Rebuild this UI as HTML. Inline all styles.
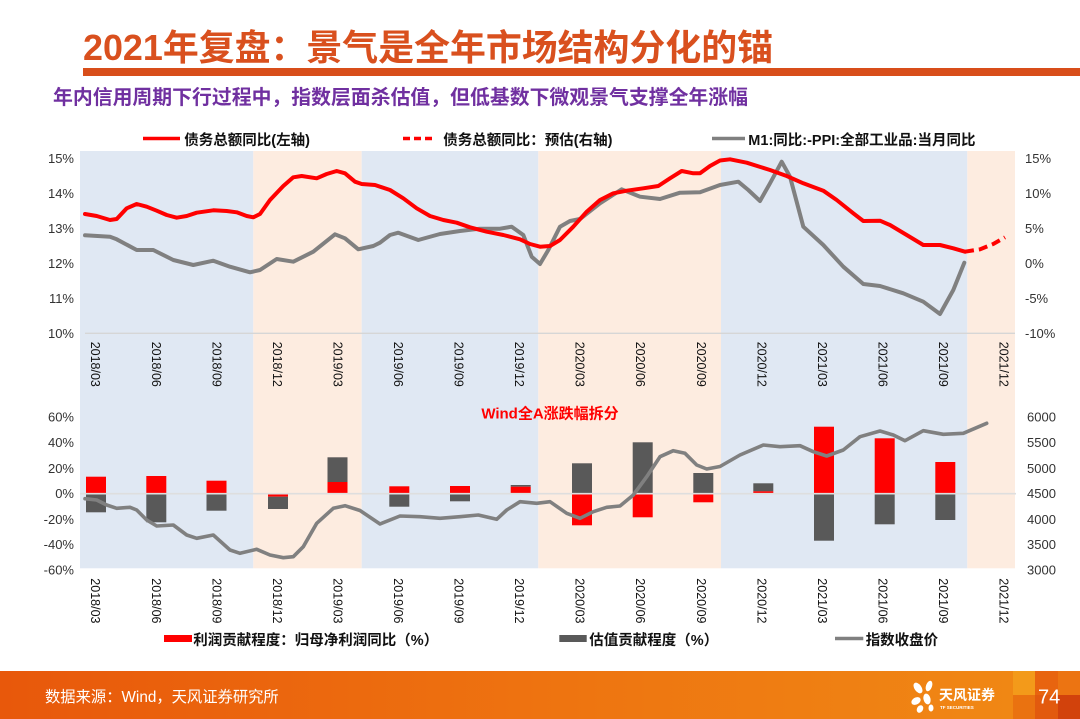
<!DOCTYPE html>
<html><head><meta charset="utf-8"><style>
html,body{margin:0;padding:0;background:#fff;}
svg{display:block;}
text{font-family:"Liberation Sans","Noto Sans CJK SC",sans-serif;}
.tk{font-size:13px;fill:#333;}
.dt{font-size:12.5px;fill:#111;}
.lg{font-size:14.5px;font-weight:bold;fill:#111;}
</style></head><body>
<svg width="1080" height="719" viewBox="0 0 1080 719" xmlns="http://www.w3.org/2000/svg">
<defs>
<linearGradient id="fg" x1="0" y1="0" x2="1" y2="0">
<stop offset="0" stop-color="#e8580b"/><stop offset="0.5" stop-color="#ee7310"/><stop offset="1" stop-color="#f08a15"/>
</linearGradient>
</defs>
<rect width="1080" height="719" fill="#fff"/>
<!-- Title -->
<text x="83" y="60" font-size="36" font-weight="bold" fill="#d9501e" textLength="690" lengthAdjust="spacingAndGlyphs">2021年复盘：景气是全年市场结构分化的锚</text>
<rect x="83" y="68" width="997" height="8" fill="#d84e1a"/>
<text x="53" y="104" font-size="20" font-weight="bold" fill="#7030a0" textLength="695" lengthAdjust="spacingAndGlyphs">年内信用周期下行过程中，指数层面杀估值，但低基数下微观景气支撑全年涨幅</text>

<!-- top legend -->
<line x1="143" y1="138.5" x2="180" y2="138.5" stroke="#ff0000" stroke-width="3.5"/>
<text class="lg" x="184.3" y="145.2">债务总额同比(左轴)</text>
<line x1="403" y1="138.5" x2="432" y2="138.5" stroke="#ff0000" stroke-width="3.5" stroke-dasharray="7,4"/>
<text class="lg" x="443.3" y="145.2">债务总额同比：预估(右轴)</text>
<line x1="712" y1="138.5" x2="745" y2="138.5" stroke="#808080" stroke-width="3.5"/>
<text class="lg" x="748.3" y="145.2">M1:同比:-PPI:全部工业品:当月同比</text>

<!-- shading -->
<rect x="80" y="151" width="173.3" height="417.3" fill="#e0e8f3"/>
<rect x="253.3" y="151" width="108.4" height="417.3" fill="#fdece0"/>
<rect x="361.7" y="151" width="176.6" height="417.3" fill="#e0e8f3"/>
<rect x="538.3" y="151" width="182.7" height="417.3" fill="#fdece0"/>
<rect x="721" y="151" width="246.3" height="417.3" fill="#e0e8f3"/>
<rect x="967.3" y="151" width="47.7" height="417.3" fill="#fdece0"/>

<!-- top axis -->
<line x1="85" y1="333.3" x2="1015" y2="333.3" stroke="#d6d6d6" stroke-width="1.3"/>
<g class="tk" text-anchor="end">
<text x="74" y="163">15%</text><text x="74" y="198">14%</text><text x="74" y="233">13%</text>
<text x="74" y="268">12%</text><text x="74" y="303">11%</text><text x="74" y="338">10%</text>
</g>
<g class="tk">
<text x="1025" y="163">15%</text><text x="1025" y="198">10%</text><text x="1025" y="233">5%</text>
<text x="1025" y="268">0%</text><text x="1025" y="303">-5%</text><text x="1025" y="338">-10%</text>
</g>

<!-- top lines -->
<polyline fill="none" stroke="#808080" stroke-width="4" stroke-linejoin="round" stroke-linecap="round" points="85,235.3 110,236.7 116.7,239.3 136.7,250 153.3,250 173.3,260 193.3,265 213.3,260.7 230,266.7 250,272.3 260,270 276.7,259 293.3,261.7 313.3,251.7 335,234.3 345,238.3 358.3,249.3 373.3,246 380,242.7 390,235 398.3,232.7 418.3,240 440,234 460,231 480,228.7 500,228.7 511.7,226.7 523.3,235 531.7,256.7 540,264 548.3,250 560,226.7 570,221 580,219 600,203.3 621.7,189.3 640,196.7 660,199 680,192.7 700,192.3 720,185 738.3,181.7 748.3,190 760,201 770,183.3 781.7,161.7 790,176.7 803.3,226.7 823.3,245 843.3,266.7 863.3,284 880,286 903.3,293.3 923.3,301.7 940,314 953.3,290 964.3,262.7"/>
<polyline fill="none" stroke="#ff0000" stroke-width="4" stroke-linejoin="round" stroke-linecap="round" points="85,214 96.7,216 110,220 116.7,219 126.7,208.3 136.7,204 146.7,206.7 156.7,210.7 166.7,215 176.7,217.7 186.7,216 196.7,212.7 213.3,210.3 226.7,211 236.7,212.3 246.7,216 253.3,217.3 260,214 270,200 283.3,186 293.3,177.3 301.7,176 316.7,178.3 326.7,174 336.7,171 345,173.3 355,181.7 361.7,184 375,185 390,190 403.3,198.3 416.7,208.3 430,216 443.3,220 456.7,222.7 470,227.3 486.7,231.7 503.3,235 520,239.3 530,244 540,246.7 550,246 560,240 573.3,226.7 586.7,211.7 600,200 613.3,193.3 626.7,190.7 643.3,188.3 658.3,186 670,178.3 681.7,171 693.3,173.3 700,173.3 710,166 720,160.5 730,159.3 746.7,162.7 770,170 786.7,176 803.3,183.3 823.3,190.7 836.7,200 853.3,213.3 863.3,221 880,220.7 890,225 906.7,235 923.3,245 940,245 953.3,248.3 965,251.7"/>
<polyline fill="none" stroke="#ff0000" stroke-width="4" stroke-dasharray="9,5" points="965,251.7 980,249.3 993.3,244 1005,237.3"/>

<!-- top date labels -->
<g class="dt">
<text transform="translate(91.2,341.7) rotate(90)">2018/03</text>
<text transform="translate(151.8,341.7) rotate(90)">2018/06</text>
<text transform="translate(212.3,341.7) rotate(90)">2018/09</text>
<text transform="translate(272.9,341.7) rotate(90)">2018/12</text>
<text transform="translate(333.4,341.7) rotate(90)">2019/03</text>
<text transform="translate(394,341.7) rotate(90)">2019/06</text>
<text transform="translate(454.5,341.7) rotate(90)">2019/09</text>
<text transform="translate(515.1,341.7) rotate(90)">2019/12</text>
<text transform="translate(575.6,341.7) rotate(90)">2020/03</text>
<text transform="translate(636.2,341.7) rotate(90)">2020/06</text>
<text transform="translate(696.8,341.7) rotate(90)">2020/09</text>
<text transform="translate(757.3,341.7) rotate(90)">2020/12</text>
<text transform="translate(817.9,341.7) rotate(90)">2021/03</text>
<text transform="translate(878.4,341.7) rotate(90)">2021/06</text>
<text transform="translate(939,341.7) rotate(90)">2021/09</text>
<text transform="translate(999.5,341.7) rotate(90)">2021/12</text>
</g>

<!-- bottom chart -->
<text x="550" y="418.5" text-anchor="middle" font-size="15" font-weight="bold" fill="#ff0000">Wind全A涨跌幅拆分</text>
<g class="tk" text-anchor="end">
<text x="74" y="421.3">60%</text><text x="74" y="446.9">40%</text><text x="74" y="472.9">20%</text>
<text x="74" y="497.9">0%</text><text x="74" y="523.9">-20%</text><text x="74" y="548.9">-40%</text><text x="74" y="574.6">-60%</text>
</g>
<g class="tk">
<text x="1027" y="421.3">6000</text><text x="1027" y="446.9">5500</text><text x="1027" y="472.9">5000</text>
<text x="1027" y="497.9">4500</text><text x="1027" y="523.9">4000</text><text x="1027" y="548.9">3500</text><text x="1027" y="574.6">3000</text>
</g>

<g>
<rect x="86" y="476.7" width="20" height="16.8" fill="#ff0000"/><rect x="86" y="493.5" width="20" height="18.8" fill="#595959"/>
<rect x="146.3" y="476" width="20" height="17.5" fill="#ff0000"/><rect x="146.3" y="493.5" width="20" height="28.8" fill="#595959"/>
<rect x="206.5" y="480.7" width="20" height="12.8" fill="#ff0000"/><rect x="206.5" y="493.5" width="20" height="17.2" fill="#595959"/>
<rect x="268" y="493.5" width="20" height="3.2" fill="#ff0000"/><rect x="268" y="496.7" width="20" height="12.3" fill="#595959"/>
<rect x="327.5" y="457.3" width="20" height="24.7" fill="#595959"/><rect x="327.5" y="482" width="20" height="11.5" fill="#ff0000"/>
<rect x="389.3" y="486.3" width="20" height="7.2" fill="#ff0000"/><rect x="389.3" y="493.5" width="20" height="13.2" fill="#595959"/>
<rect x="450" y="486" width="20" height="7.5" fill="#ff0000"/><rect x="450" y="493.5" width="20" height="7.8" fill="#595959"/>
<rect x="510.7" y="485" width="20" height="1.7" fill="#595959"/><rect x="510.7" y="486.7" width="20" height="6.8" fill="#ff0000"/>
<rect x="572" y="463.3" width="20" height="30.2" fill="#595959"/><rect x="572" y="493.5" width="20" height="31.8" fill="#ff0000"/>
<rect x="632.7" y="442.3" width="20" height="51.2" fill="#595959"/><rect x="632.7" y="493.5" width="20" height="23.8" fill="#ff0000"/>
<rect x="693.3" y="473" width="20" height="20.5" fill="#595959"/><rect x="693.3" y="493.5" width="20" height="8.8" fill="#ff0000"/>
<rect x="753.3" y="483.3" width="20" height="8" fill="#595959"/><rect x="753.3" y="491.3" width="20" height="2.2" fill="#ff0000"/>
<rect x="814" y="426.7" width="20" height="66.8" fill="#ff0000"/><rect x="814" y="493.5" width="20" height="47.2" fill="#595959"/>
<rect x="874.7" y="438.3" width="20" height="55.2" fill="#ff0000"/><rect x="874.7" y="493.5" width="20" height="30.8" fill="#595959"/>
<rect x="935.3" y="462" width="20" height="31.5" fill="#ff0000"/><rect x="935.3" y="493.5" width="20" height="26.5" fill="#595959"/>
</g>
<line x1="80" y1="493.7" x2="1016" y2="493.7" stroke="#dedede" stroke-width="1.6"/>

<polyline fill="none" stroke="#808080" stroke-width="3.6" stroke-linejoin="round" stroke-linecap="round" points="85,498.7 96.7,500 106.7,505 116.7,508.3 130,507.3 136.7,510 146.7,520 156.7,526 173.3,525 186.7,535 196.7,538.3 213.3,535 230,550 240,553.3 256.7,549.3 270,555 283.3,557.7 293.3,556.7 303.3,546.7 316.7,523.3 333.3,508.3 345,505.7 360,510.5 380,524 400,516 420,516.7 440,518.3 460,516.7 478.3,515 496.7,519.3 506.7,510 520,501.7 536.7,503.3 550,501.7 566.7,513.3 580,518.3 593.3,511.7 606.7,507.3 620,506 633.3,495 646.7,476.7 660,456.7 673.3,450.7 685,453.3 696.7,465 706.7,469 720,466.5 740,455 763.3,445 780,446.7 800,445.7 813.3,451.7 826.7,456 843.3,450 860,436.7 880,431 893.3,435 905,440.7 923.3,430.7 943.3,434.3 963.3,433.3 986.7,423.3"/>

<!-- bottom date labels -->
<g class="dt">
<text transform="translate(91.2,578.3) rotate(90)">2018/03</text>
<text transform="translate(151.8,578.3) rotate(90)">2018/06</text>
<text transform="translate(212.3,578.3) rotate(90)">2018/09</text>
<text transform="translate(272.9,578.3) rotate(90)">2018/12</text>
<text transform="translate(333.4,578.3) rotate(90)">2019/03</text>
<text transform="translate(394,578.3) rotate(90)">2019/06</text>
<text transform="translate(454.5,578.3) rotate(90)">2019/09</text>
<text transform="translate(515.1,578.3) rotate(90)">2019/12</text>
<text transform="translate(575.6,578.3) rotate(90)">2020/03</text>
<text transform="translate(636.2,578.3) rotate(90)">2020/06</text>
<text transform="translate(696.8,578.3) rotate(90)">2020/09</text>
<text transform="translate(757.3,578.3) rotate(90)">2020/12</text>
<text transform="translate(817.9,578.3) rotate(90)">2021/03</text>
<text transform="translate(878.4,578.3) rotate(90)">2021/06</text>
<text transform="translate(939,578.3) rotate(90)">2021/09</text>
<text transform="translate(999.5,578.3) rotate(90)">2021/12</text>
</g>

<!-- bottom legend -->
<rect x="164" y="635" width="28" height="7" fill="#ff0000"/>
<text class="lg" x="193.3" y="645.2">利润贡献程度：归母净利润同比（%）</text>
<rect x="559.3" y="635" width="27.4" height="7" fill="#595959"/>
<text class="lg" x="589.3" y="645.2">估值贡献程度（%）</text>
<line x1="835" y1="638.5" x2="863.3" y2="638.5" stroke="#808080" stroke-width="3.6"/>
<text class="lg" x="865.7" y="645.2">指数收盘价</text>

<!-- footer -->
<rect x="0" y="671" width="1080" height="48" fill="url(#fg)"/>
<text x="45" y="702" font-size="15.3" fill="#fff">数据来源：Wind，天风证券研究所</text>
<g fill="#fff">
<ellipse cx="918" cy="688" rx="3.5" ry="6" transform="rotate(-35 918 688)"/>
<ellipse cx="929" cy="686" rx="3" ry="5.5" transform="rotate(20 929 686)"/>
<ellipse cx="916" cy="701" rx="3.5" ry="5" transform="rotate(60 916 701)"/>
<ellipse cx="927" cy="699" rx="3.5" ry="5.5" transform="rotate(-15 927 699)"/>
<ellipse cx="920" cy="709" rx="3" ry="4" transform="rotate(30 920 709)"/>
<ellipse cx="931" cy="708" rx="2.5" ry="3.5"/>
</g>
<text x="939" y="700" font-size="14" font-weight="bold" fill="#fff">天风证券</text>
<text x="940" y="709" font-size="4.5" font-weight="bold" fill="#fff">TF SECURITIES</text>
<rect x="1013" y="671" width="22" height="24" fill="#f39a1a"/>
<rect x="1013" y="695" width="22" height="24" fill="#ea7210"/>
<rect x="1035" y="671" width="23" height="24" fill="#e8640f"/>
<rect x="1035" y="695" width="23" height="24" fill="#e25a0e"/>
<rect x="1058" y="671" width="22" height="24" fill="#ec7412"/>
<rect x="1058" y="695" width="22" height="24" fill="#d2420c"/>
<text x="1038" y="703.5" font-size="20" fill="#fff">74</text>
</svg>
</body></html>
